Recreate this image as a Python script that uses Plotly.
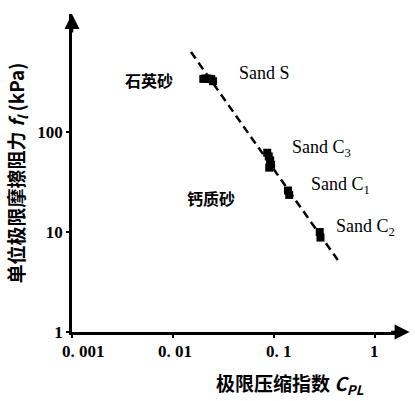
import numpy as np
import plotly.graph_objects as go

# Measured data (log-log): limiting compression index vs unit shaft friction
sand_s_x = [0.0200, 0.0210, 0.0220, 0.0230, 0.0240, 0.0250]
sand_s_y = [340, 342, 342, 340, 338, 322]
sand_c3_x = [0.086, 0.089, 0.092, 0.094, 0.090]
sand_c3_y = [62, 57, 52, 47, 44]
sand_c1_x = [0.138, 0.142]
sand_c1_y = [26, 23.5]
sand_c2_x = [0.285, 0.29]
sand_c2_y = [10.0, 8.8]

# Fitted trend line endpoints
fit_x = [0.0151, 0.43]
fit_y = [631, 5.25]

x_tick_vals = [0.001, 0.01, 0.1, 1]
x_tick_text = ["0. 001", "0. 01", "0. 1", "1"]
x_label_shift = [-12, -17, -10, 0]  # left edge offsets of the printed tick labels
y_tick_vals = [1, 10, 100]
y_tick_text = ["1", "10", "100"]

serif = "Liberation Serif, DejaVu Serif, serif"
cjk = "Noto Sans CJK SC, sans-serif"

fig = go.Figure()
fig.add_trace(go.Scatter(x=fit_x, y=fit_y, mode="lines",
                         line=dict(color="black", width=2.5, dash="8px,5px"),
                         showlegend=False, hoverinfo="skip"))
for xs, ys in [(sand_s_x, sand_s_y), (sand_c3_x, sand_c3_y),
               (sand_c1_x, sand_c1_y), (sand_c2_x, sand_c2_y)]:
    fig.add_trace(go.Scatter(x=xs, y=ys, mode="markers",
                             marker=dict(symbol="square", color="black", size=8),
                             showlegend=False))

# X tick labels, placed under each tick (left-anchored)
for v, t, dx in zip(x_tick_vals, x_tick_text, x_label_shift):
    fig.add_annotation(x=np.log10(v), xref="x", yref="paper", y=0, yshift=-8,
                       xshift=dx, text=t, showarrow=False,
                       font=dict(family=serif, size=17, color="black", weight="bold"),
                       xanchor="left" if v < 1 else "center", yanchor="top")

# Point labels
labels = [
    (0.0817, 389, "Sand S", serif, 18, "normal"),
    (0.0058, 331, "石英砂", cjk, 16, "bold"),
    (0.30, 69, "Sand C<sub>3</sub>", serif, 18, "normal"),
    (0.46, 29.5, "Sand C<sub>1</sub>", serif, 18, "normal"),
    (0.81, 11, "Sand C<sub>2</sub>", serif, 18, "normal"),
    (0.0238, 21.9, "钙质砂", cjk, 16, "bold"),
]
for x, y, t, f, s, w in labels:
    fig.add_annotation(x=np.log10(x), y=np.log10(y), text=t, showarrow=False,
                       font=dict(family=f, size=s, color="black", weight=w),
                       xanchor="center", yanchor="middle")

# Axis titles
fig.add_annotation(xref="paper", yref="paper", x=-0.165, y=0.5,
                   text="单位极限摩擦阻力 <i>f<sub>l</sub></i> (kPa)", textangle=-90,
                   showarrow=False,
                   font=dict(family=cjk, size=19, color="black", weight="bold"),
                   xanchor="center", yanchor="middle")
fig.add_annotation(xref="paper", yref="paper", x=0.66, y=-0.165,
                   text="极限压缩指数 <i>C<sub>PL</sub></i>",
                   showarrow=False,
                   font=dict(family=cjk, size=19, color="black", weight="bold"),
                   xanchor="center", yanchor="middle")

# Arrowheads at the ends of both axes
fig.add_annotation(xref="paper", yref="paper", x=1.02, y=0, ax=-20, ay=0,
                   axref="pixel", ayref="pixel", text="", showarrow=True,
                   arrowhead=2, arrowsize=1.2, arrowwidth=2.5, arrowcolor="black")
fig.add_annotation(xref="paper", yref="paper", x=0, y=1.0, ax=0, ay=20,
                   axref="pixel", ayref="pixel", text="", showarrow=True,
                   arrowhead=2, arrowsize=1.2, arrowwidth=2.5, arrowcolor="black")

axis_common = dict(type="log", showgrid=False, zeroline=False, showline=True,
                   linecolor="black", linewidth=2.5, ticks="outside", ticklen=3,
                   tickwidth=2, tickcolor="black",
                   tickfont=dict(family=serif, size=17, color="black", weight="bold"))
fig.update_layout(
    width=415, height=401,
    margin=dict(l=72, r=12, t=14, b=69),
    paper_bgcolor="white", plot_bgcolor="white",
    xaxis=dict(range=[-3, 0.28], tickvals=x_tick_vals, showticklabels=False,
               **axis_common),
    yaxis=dict(range=[0, 3.18], tickvals=y_tick_vals, ticktext=y_tick_text,
               **axis_common),
)

fig.write_html("out.html")
